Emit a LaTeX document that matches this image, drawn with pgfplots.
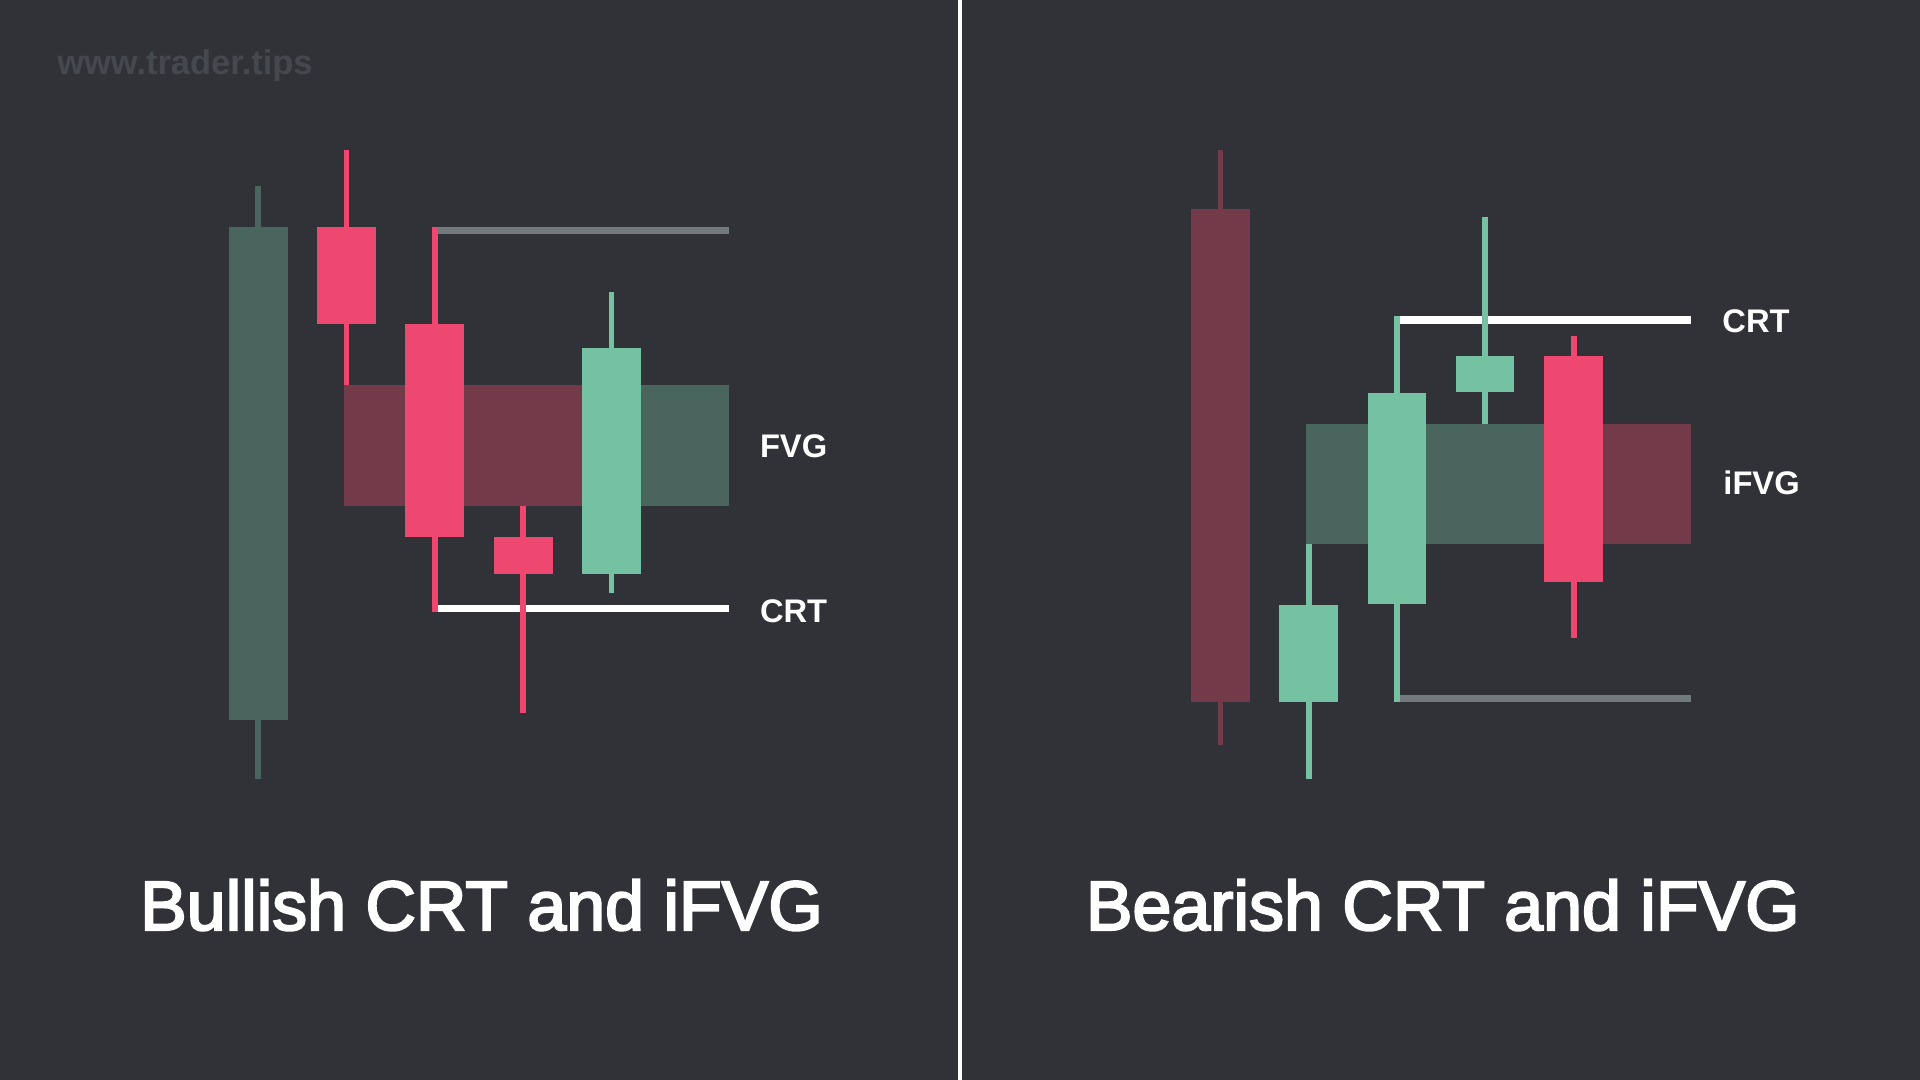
\documentclass[border=0pt]{standalone}
\usepackage{pgfplots}
\pgfplotsset{compat=1.18}
\usepackage{fontspec}
\setmainfont{Liberation Sans}
\newfontfamily\medfont{Liberation Sans}[FakeBold=3]
\definecolor{bg}{HTML}{313238}
\definecolor{dgreen}{HTML}{4A655E}
\definecolor{dred}{HTML}{733A49}
\definecolor{bred}{HTML}{EE4870}
\definecolor{mint}{HTML}{75C2A3}
\definecolor{lgray}{HTML}{737A7B}
\definecolor{wm}{HTML}{46484F}
% body rectangle: x1 x2 ytop ybot color
\newcommand{\body}[5]{\addplot[fill=#5, draw=none] coordinates {(#1,#3) (#2,#3) (#2,#4) (#1,#4)};}
% wick: x ytop ybot color
\newcommand{\wick}[4]{\addplot[draw=#4, line width=0.058cm] coordinates {(#1,#2) (#1,#3)};}
\begin{document}
\begin{tikzpicture}
\begin{axis}[scale only axis, width=19.2cm, height=10.8cm,
  xmin=0, xmax=1920, ymin=0, ymax=1080, y dir=reverse,
  hide axis, clip=false]
% background
\body{0}{1920}{0}{1080}{bg}
% divider
\addplot[draw=white, line width=0.04cm] coordinates {(959.7,0) (959.7,1080)};
% ---------------- Bullish panel ----------------
% FVG box
\body{343.6}{611.4}{385.5}{505.5}{dred}
\body{611.4}{728.9}{385.5}{505.5}{dgreen}
% CRT range lines
\addplot[draw=lgray, line width=0.068cm] coordinates {(434.6,230.6) (728.9,230.6)};
\addplot[draw=white, line width=0.072cm] coordinates {(434.6,608.6) (728.9,608.6)};
% candle 1
\wick{258.2}{185.6}{779.0}{dgreen}
\body{228.6}{287.5}{226.8}{720.1}{dgreen}
% candle 2
\wick{346.4}{150.2}{385.5}{bred}
\body{317.1}{376.1}{227.2}{324.5}{bred}
% candle 3
\wick{434.6}{227.2}{612.4}{bred}
\body{405.4}{464.3}{324.5}{537.0}{bred}
% candle 4
\wick{523.2}{505.5}{713.0}{bred}
\body{493.6}{552.9}{537.0}{574.1}{bred}
% candle 5
\wick{611.4}{292.1}{593.4}{mint}
\body{582.1}{641.1}{347.6}{574.1}{mint}
% ---------------- Bearish panel ----------------
% iFVG box
\body{1306.1}{1573.6}{423.8}{543.8}{dgreen}
\body{1573.6}{1691.1}{423.8}{543.8}{dred}
% CRT range lines
\addplot[draw=white, line width=0.072cm] coordinates {(1396.8,320.0) (1691.1,320.0)};
\addplot[draw=lgray, line width=0.068cm] coordinates {(1396.8,698.3) (1691.1,698.3)};
% candle 1
\wick{1220.4}{150.2}{744.5}{dred}
\body{1191.1}{1249.6}{209.1}{701.6}{dred}
% candle 2
\wick{1308.6}{543.8}{779.0}{mint}
\body{1279.3}{1337.9}{604.8}{701.6}{mint}
% candle 3
\wick{1396.8}{316.5}{701.6}{mint}
\body{1367.9}{1426.4}{392.6}{604.4}{mint}
% candle 4
\wick{1485.0}{216.7}{423.8}{mint}
\body{1456.1}{1514.3}{355.6}{391.8}{mint}
% candle 5
\wick{1573.6}{335.8}{637.6}{bred}
\body{1543.9}{1602.9}{355.6}{582.1}{bred}
% ---------------- texts ----------------
\node[anchor=base west, inner sep=0, text=wm, font=\bfseries\fontsize{9.8}{11}\selectfont] at (axis cs:56.7,75) {www.trader.tips};
\node[anchor=base west, inner sep=0, text=white, font=\bfseries\fontsize{9.3}{11}\selectfont] at (axis cs:759.3,457.3) {FVG};
\node[anchor=base west, inner sep=0, text=white, font=\bfseries\fontsize{9.3}{11}\selectfont] at (axis cs:759.3,622.3) {CRT};
\node[anchor=base west, inner sep=0, text=white, font=\bfseries\fontsize{9.3}{11}\selectfont] at (axis cs:1721.7,332.7) {CRT};
\node[anchor=base west, inner sep=0, text=white, font=\bfseries\fontsize{9.3}{11}\selectfont] at (axis cs:1722.7,494) {iFVG};
\node[anchor=base, inner sep=0, text=white, font=\medfont\fontsize{19.9}{24}\selectfont] at (axis cs:481.5,930) {Bullish CRT and iFVG};
\node[anchor=base, inner sep=0, text=white, font=\medfont\fontsize{19.9}{24}\selectfont] at (axis cs:1442.8,930) {Bearish CRT and iFVG};
\end{axis}
\pgfresetboundingbox
\useasboundingbox (current axis.south west) rectangle (current axis.north east);
\end{tikzpicture}
\end{document}
